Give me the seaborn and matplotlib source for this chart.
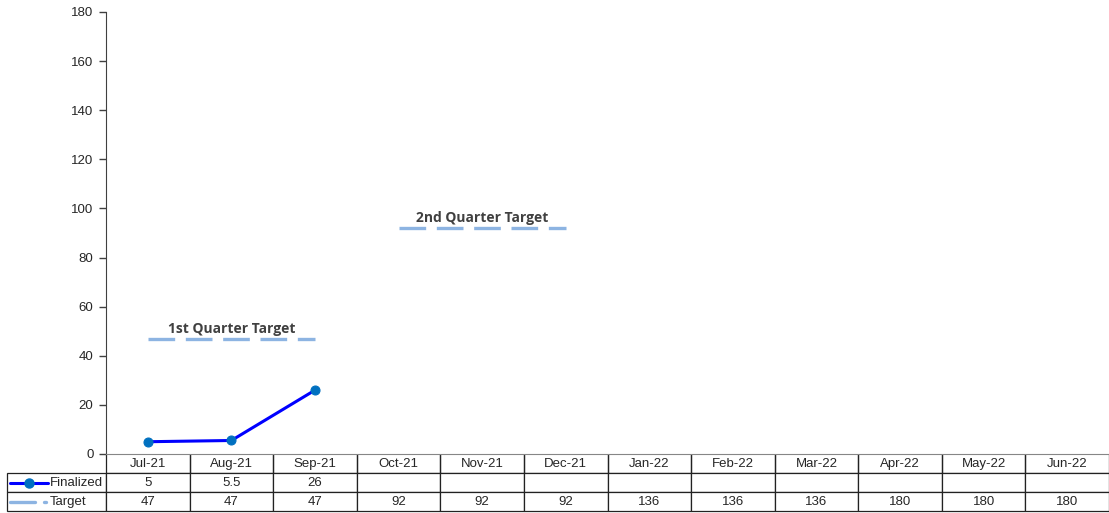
import numpy as np
import pandas as pd
import matplotlib.pyplot as plt
import seaborn as sns

months = ["Jul-21", "Aug-21", "Sep-21", "Oct-21", "Nov-21", "Dec-21",
          "Jan-22", "Feb-22", "Mar-22", "Apr-22", "May-22", "Jun-22"]
finalized = [5, 5.5, 26]
target = [47, 47, 47, 92, 92, 92, 136, 136, 136, 180, 180, 180]
quarter = [1, 1, 1, 2, 2, 2, 3, 3, 3, 4, 4, 4]
shown_quarters = [1, 2]
quarter_labels = ["1st Quarter Target", "2nd Quarter Target"]

line_blue = "#0000FF"
marker_blue = "#0070C0"
target_blue = "#8DB4E2"

sns.set_style("white")
plt.rcParams["font.family"] = ["Liberation Sans", "DejaVu Sans"]

df = pd.DataFrame({"Month": months, "x": np.arange(len(months)),
                   "Target": target, "Quarter": quarter})
df_fin = df.iloc[:len(finalized)].copy()
df_fin["Finalized"] = finalized

fig = plt.figure(figsize=(11.09, 5.13), dpi=100)
ax = fig.add_axes([106 / 1109, 1 - 454 / 513, 1003 / 1109, 442 / 513])

# quarterly target segments (only the quarters drawn in the original)
df_t = df[df["Quarter"].isin(shown_quarters)]
sns.lineplot(data=df_t, x="x", y="Target", units="Quarter", estimator=None,
             color=target_blue, lw=2.4, ax=ax, dashes=False)
for ln in ax.lines:
    ln.set_dashes((8, 3.2))

sns.lineplot(data=df_fin, x="x", y="Finalized", color=line_blue, lw=2.2,
             marker="o", markersize=6.5, markerfacecolor=marker_blue,
             markeredgecolor=marker_blue, ax=ax)

# quarter labels above the target segments
for q, lab in zip(shown_quarters, quarter_labels):
    sub = df[df["Quarter"] == q]
    ax.text(sub["x"].mean(), sub["Target"].iloc[0] + 4, lab, ha="center", va="center",
            fontsize=10, fontweight="bold", color="#404040", family="Open Sans")

ax.set_xlim(-0.5, len(months) - 0.5)
ax.set_ylim(0, 180)
ax.set_yticks(np.arange(0, 181, 20))
ax.set_xticks([])
ax.set_xlabel("")
ax.set_ylabel("")
ax.tick_params(axis="y", direction="out", length=5, width=1, color="#404040",
               labelsize=9.5, pad=4, left=True)
for s in ["top", "right"]:
    ax.spines[s].set_visible(False)
ax.spines["left"].set_color("#404040")
ax.spines["bottom"].set_color("#868686")

# data table below the plot
row_h = 0.043
x0 = -99 / 1003
cell_text = [[""] + months,
             [""] + [str(v) for v in finalized] + [""] * (len(months) - len(finalized)),
             [""] + [str(v) for v in target]]
col_w = [99] + [1003 / 12] * 12
tab = ax.table(cellText=cell_text, colWidths=col_w, cellLoc="center",
               bbox=[x0, -3 * row_h, 1 - x0, 3 * row_h])
tab.auto_set_font_size(False)
tab.set_fontsize(9.5)
for (r, c), cell in tab.get_celld().items():
    cell.set_linewidth(0.9)
    cell.set_edgecolor("#222222")
    if r == 0 and c == 0:
        cell.visible_edges = ""
    elif r == 0:
        cell.visible_edges = "BLR"

# legend keys in the row label cells
fy = -1.5 * row_h
ty = -2.5 * row_h
ax.plot([-0.0957, -0.0578], [fy, fy], color=line_blue, lw=2.2,
        transform=ax.transAxes, clip_on=False)
ax.plot([-0.0768], [fy], "o", color=marker_blue, markersize=6.5,
        transform=ax.transAxes, clip_on=False)
ax.plot([-0.0957, -0.0708], [ty, ty], color=target_blue, lw=2.4,
        transform=ax.transAxes, clip_on=False)
ax.plot([-0.0618, -0.0598], [ty, ty], color=target_blue, lw=2.4,
        transform=ax.transAxes, clip_on=False)
ax.text(-0.0558, fy, "Finalized", ha="left", va="center", fontsize=9.5,
        transform=ax.transAxes)
ax.text(-0.0558, ty, "Target", ha="left", va="center", fontsize=9.5,
        transform=ax.transAxes)

plt.savefig("out.png", dpi=100)
